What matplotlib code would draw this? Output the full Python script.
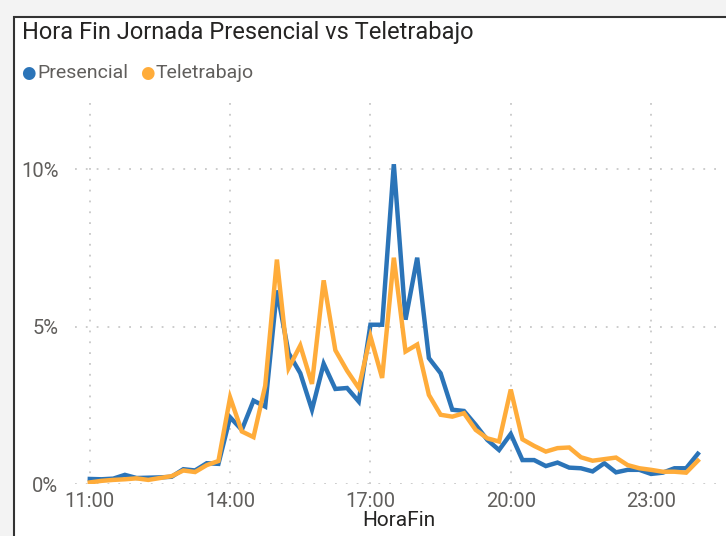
import pandas as pd
import matplotlib
matplotlib.use("Agg")
import matplotlib.pyplot as plt
import matplotlib.dates as mdates
from matplotlib.patches import Rectangle

# Hora fin (tramos de 15 min) y % de jornadas que terminan en cada tramo
horas = pd.date_range("2023-01-01 11:00", "2023-01-02 00:00", freq="15min")

presencial = [0.16, 0.15, 0.17, 0.29, 0.19, 0.20, 0.21, 0.23, 0.47, 0.43, 0.66, 0.64,
              2.12, 1.72, 2.65, 2.46, 6.15, 4.16, 3.52, 2.36, 3.82, 3.02, 3.05,
              2.62, 5.06, 5.06, 10.16, 5.22, 7.19, 4.00, 3.52, 2.36, 2.32,
              1.88, 1.40, 1.08, 1.59, 0.76, 0.76, 0.57, 0.68, 0.52, 0.50, 0.40,
              0.66, 0.37, 0.45, 0.45, 0.32, 0.36, 0.50, 0.50, 0.96]
teletrabajo = [0.05, 0.10, 0.13, 0.15, 0.18, 0.13, 0.19, 0.25, 0.43, 0.38, 0.60, 0.73,
               2.75, 1.67, 1.49, 3.12, 7.13, 3.68, 4.40, 3.18, 6.47, 4.25, 3.60,
               3.05, 4.69, 3.37, 7.19, 4.21, 4.43, 2.83, 2.20, 2.14, 2.25,
               1.72, 1.45, 1.35, 3.00, 1.42, 1.21, 1.03, 1.14, 1.16, 0.85, 0.74,
               0.79, 0.84, 0.60, 0.50, 0.45, 0.39, 0.39, 0.36, 0.74]

yticks = [0, 5, 10]
ytick_labels = ["0%", "5%", "10%"]
xtick_hours = [11, 14, 17, 20, 23]

AZUL = "#2b74b8"
NARANJA = "#ffac3a"
plt.rcParams["font.family"] = ["Roboto", "DejaVu Sans"]

W, H = 726, 536
fig = plt.figure(figsize=(W / 100, H / 100), dpi=100)
fig.patch.set_facecolor("#f3f3f3")

# tarjeta blanca con borde
fig.patches.append(Rectangle((14 / W, -0.1), 1.1, 1 - 17 / H + 0.1, transform=fig.transFigure,
                             facecolor="white", edgecolor="#333333", linewidth=1.5, zorder=-5))

fig.text(22 / W, 1 - 33 / H, "Hora Fin Jornada Presencial vs Teletrabajo",
         fontsize=17, color="#252423", va="center", ha="left")

# leyenda a mano (estilo Power BI)
fig.text(21 / W, 1 - 73 / H, "\u25CF", color=AZUL, fontsize=12, va="center")
fig.text(37 / W, 1 - 73 / H, "Presencial", color="#605e5c", fontsize=14, va="center")
fig.text(140 / W, 1 - 73 / H, "\u25CF", color=NARANJA, fontsize=12, va="center")
fig.text(156 / W, 1 - 73 / H, "Teletrabajo", color="#605e5c", fontsize=14, va="center")

ax = fig.add_axes([75 / W, 1 - 484 / H, (722 - 75) / W, (484 - 100) / H])
ax.set_facecolor("none")

ax.plot(horas, presencial, color=AZUL, linewidth=3.2, solid_joinstyle="miter", zorder=3)
ax.plot(horas, teletrabajo, color=NARANJA, linewidth=3.2, solid_joinstyle="miter", zorder=4)

ax.set_ylim(0, 12.2)
ax.set_yticks(yticks)
ax.set_yticklabels(ytick_labels)
ax.set_xlim(pd.Timestamp("2023-01-01 10:41"), pd.Timestamp("2023-01-02 00:31"))
ax.xaxis.set_major_locator(mdates.HourLocator(byhour=xtick_hours))
ax.xaxis.set_major_formatter(mdates.DateFormatter("%H:%M"))

ax.grid(True, color="#c8c8c8", linestyle=(0, (1, 5)), linewidth=1.3)
for s in ax.spines.values():
    s.set_visible(False)
ax.tick_params(length=0, labelsize=14.5, colors="#605e5c")
ax.tick_params(axis="y", pad=12)
ax.tick_params(axis="x", pad=6)
ax.set_xlabel("HoraFin", fontsize=15, color="#252423", labelpad=0)

fig.savefig("out.png", dpi=100)
